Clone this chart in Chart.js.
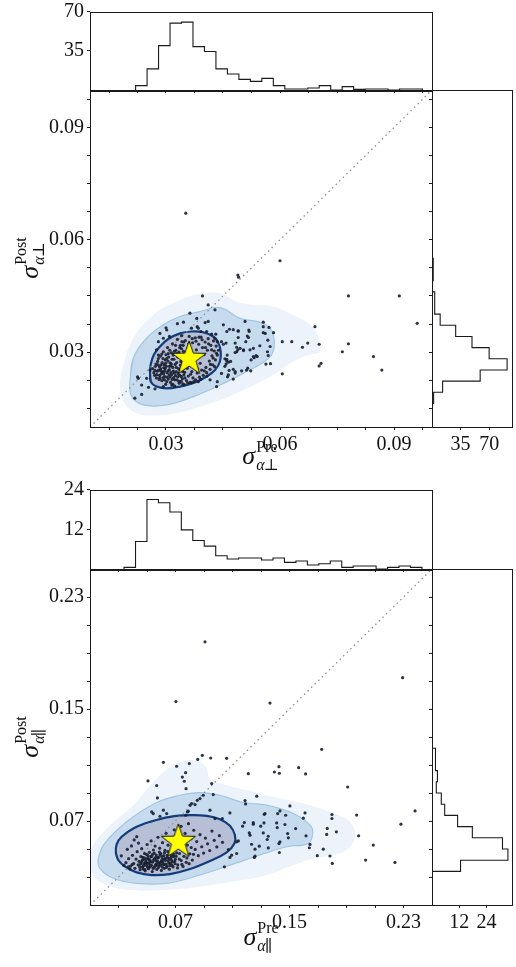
<!DOCTYPE html>
<html>
<head>
<meta charset="utf-8">
<script src="https://cdn.jsdelivr.net/npm/chart.js@4.4.1/dist/chart.umd.min.js"></script>
<style>
  html, body { margin: 0; padding: 0; background: #fff; }
  #wrap { position: relative; width: 516px; height: 967px; }
  #wrap canvas { position: absolute; left: 0; top: 0; }
</style>
</head>
<body>
<div id="wrap">
  <canvas id="perpTop" width="516" height="967"></canvas>
  <canvas id="perpMain" width="516" height="967"></canvas>
  <canvas id="perpSide" width="516" height="967"></canvas>
  <canvas id="paraTop" width="516" height="967"></canvas>
  <canvas id="paraMain" width="516" height="967"></canvas>
  <canvas id="paraSide" width="516" height="967"></canvas>
</div>
<script>
// ---- perpendicular (top panel) ----
const perpRange = [0.01, 0.10];
const perpTicks = [0.015, 0.0225, 0.03, 0.0375, 0.045, 0.0525, 0.06, 0.0675, 0.075, 0.0825, 0.09, 0.0975];
const perpMajor = [0.03, 0.06, 0.09];
const perpStar = [0.0361, 0.0282];

const perpPoints = [
  [0.0352,0.0671],[0.0600,0.0544],[0.0489,0.0506],[0.0491,0.0500],[0.0780,0.0450],[0.0914,0.0450],[0.0961,0.0377],
  [0.0692,0.0368],[0.0703,0.0321],[0.0780,0.0322],[0.0764,0.0301],[0.0846,0.0288],[0.0868,0.0252],[0.0708,0.0270],
  [0.0703,0.0263],[0.0606,0.0242],[0.0673,0.0324],[0.0659,0.0313],[0.0631,0.0328],[0.0606,0.0328],
  [0.0396,0.0450],[0.0411,0.0426],[0.0363,0.0404],[0.0429,0.0413],[0.0508,0.0382],[0.0556,0.0380],[0.0571,0.0366],
  [0.0561,0.0350],[0.0547,0.0317],[0.0569,0.0291],[0.0575,0.0269],[0.0530,0.0288],[0.0537,0.0291],[0.0512,0.0252],
  [0.0499,0.0250],[0.0482,0.0248],[0.0464,0.0239],[0.0433,0.0208],[0.0435,0.0221],[0.0460,0.0276],[0.0455,0.0282],
  [0.0464,0.0273],[0.0486,0.0301],[0.0495,0.0310],[0.0504,0.0306],[0.0482,0.0324],[0.0490,0.0357],[0.0519,0.0355],
  [0.0517,0.0339],[0.0510,0.0328],[0.0530,0.0310],[0.0451,0.0373],[0.0460,0.0355],[0.0446,0.0328],[0.0477,0.0360],
  [0.0431,0.0348],[0.0429,0.0337],[0.0346,0.0380],[0.0330,0.0376],[0.0381,0.0390],[0.0403,0.0379],[0.0411,0.0382],
  [0.0385,0.0364],[0.0284,0.0350],[0.0302,0.0359],[0.0309,0.0342],[0.0280,0.0328],[0.0293,0.0337],[0.0227,0.0230],
  [0.0236,0.0212],[0.0218,0.0177],[0.0254,0.0206],[0.0271,0.0202],
  [0.0300,0.0365],[0.0275,0.0306],[0.0280,0.0292],[0.0258,0.0252],[0.0249,0.0230],[0.0225,0.0234],[0.0236,0.0187],
  [0.0293,0.0208],[0.0315,0.0212],[0.0344,0.0215],[0.0367,0.0218],[0.0385,0.0221],[0.0416,0.0226],[0.0446,0.0243],
  [0.0455,0.0262],[0.0461,0.0292],[0.0435,0.0328],[0.0451,0.0321],[0.0467,0.0361],[0.0367,0.0364],[0.0382,0.0368],
  [0.0392,0.0355],[0.0407,0.0355],[0.0420,0.0348],
  [0.0490,0.0356],[0.0518,0.0359],[0.0514,0.0343],[0.0490,0.0339],[0.0556,0.0368],[0.0583,0.0352],[0.0556,0.0352],
  [0.0568,0.0332],[0.0574,0.0315],[0.0567,0.0301],[0.0458,0.0324],[0.0486,0.0313],[0.0489,0.0306],[0.0504,0.0304],
  [0.0521,0.0306],[0.0482,0.0299],[0.0540,0.0288],[0.0532,0.0285],[0.0524,0.0279],[0.0460,0.0281],[0.0470,0.0275],
  [0.0458,0.0268],[0.0563,0.0268],[0.0515,0.0257],[0.0523,0.0250],[0.0477,0.0254],[0.0482,0.0244],[0.0466,0.0251],
  [0.0462,0.0234],[0.0477,0.0228],
  [0.0268,0.0245],[0.0272,0.0262],[0.0275,0.0231],[0.0278,0.0275],[0.0281,0.0252],[0.0283,0.0238],[0.0285,0.0289],
  [0.0287,0.0266],[0.0289,0.0224],[0.0291,0.0247],[0.0293,0.0301],[0.0294,0.0258],[0.0296,0.0235],[0.0298,0.0279],
  [0.0299,0.0214],[0.0301,0.0262],[0.0303,0.0245],[0.0304,0.0312],[0.0306,0.0228],[0.0307,0.0287],[0.0309,0.0253],
  [0.0311,0.0271],[0.0312,0.0219],[0.0314,0.0298],[0.0315,0.0240],[0.0317,0.0322],[0.0318,0.0259],[0.0320,0.0232],
  [0.0321,0.0281],[0.0323,0.0209],[0.0324,0.0267],[0.0326,0.0305],[0.0327,0.0248],[0.0329,0.0226],[0.0330,0.0334],
  [0.0332,0.0291],[0.0333,0.0256],[0.0335,0.0217],[0.0336,0.0238],[0.0338,0.0318],[0.0339,0.0275],[0.0341,0.0344],
  [0.0343,0.0229],[0.0344,0.0263],[0.0346,0.0302],[0.0348,0.0213],[0.0349,0.0246],[0.0351,0.0331],[0.0353,0.0284],
  [0.0354,0.0224],[0.0356,0.0257],[0.0358,0.0311],[0.0359,0.0236],[0.0361,0.0342],[0.0363,0.0270],[0.0364,0.0219],
  [0.0366,0.0296],[0.0368,0.0248],[0.0370,0.0325],[0.0371,0.0231],[0.0373,0.0281],[0.0375,0.0262],[0.0377,0.0338],
  [0.0378,0.0226],[0.0380,0.0306],[0.0382,0.0244],[0.0384,0.0290],[0.0386,0.0321],[0.0388,0.0233],[0.0390,0.0270],
  [0.0392,0.0340],[0.0394,0.0252],[0.0396,0.0312],[0.0398,0.0238],[0.0400,0.0293],[0.0403,0.0327],[0.0405,0.0259],
  [0.0407,0.0245],[0.0409,0.0305],[0.0411,0.0336],[0.0414,0.0276],[0.0416,0.0254],[0.0418,0.0318],[0.0421,0.0290],
  [0.0423,0.0266],[0.0425,0.0330],[0.0427,0.0303],[0.0430,0.0279],[0.0432,0.0316],[0.0435,0.0292],[0.0438,0.0305],
  [0.0265,0.0256],[0.0270,0.0238],[0.0274,0.0268],[0.0277,0.0249],[0.0280,0.0283],[0.0282,0.0227],[0.0286,0.0255],
  [0.0288,0.0242],[0.0290,0.0272],[0.0292,0.0231],[0.0295,0.0266],[0.0297,0.0250],[0.0300,0.0293],[0.0302,0.0221],
  [0.0305,0.0276],[0.0308,0.0239],[0.0310,0.0305],[0.0313,0.0263],[0.0316,0.0227],[0.0319,0.0292],[0.0322,0.0244],
  [0.0325,0.0318],[0.0328,0.0272],[0.0331,0.0234],[0.0334,0.0300],[0.0337,0.0251],[0.0340,0.0222],[0.0342,0.0328],
  [0.0345,0.0280],[0.0347,0.0239],
  [0.0283,0.0261],[0.0287,0.0249],[0.0292,0.0283],[0.0296,0.0226],[0.0299,0.0270],[0.0303,0.0233],[0.0306,0.0296],
  [0.0309,0.0262],[0.0313,0.0245],[0.0316,0.0281],[0.0318,0.0214],[0.0322,0.0302],[0.0325,0.0237],[0.0327,0.0259],
  [0.0331,0.0287],[0.0334,0.0222],[0.0338,0.0265],[0.0341,0.0309],[0.0344,0.0248],[0.0347,0.0327],[0.0350,0.0231],
  [0.0354,0.0296],[0.0357,0.0218],[0.0360,0.0322],[0.0365,0.0241],[0.0369,0.0336],[0.0373,0.0221],[0.0379,0.0329],
  [0.0383,0.0255],[0.0387,0.0340],[0.0391,0.0227],[0.0395,0.0333],[0.0401,0.0250],[0.0404,0.0312],[0.0408,0.0236],
  [0.0412,0.0322],[0.0417,0.0267],[0.0420,0.0306],[0.0424,0.0284],[0.0428,0.0261],[0.0433,0.0297],[0.0271,0.0251],
  [0.0276,0.0240],[0.0279,0.0266],[0.0284,0.0232],[0.0289,0.0295],[0.0294,0.0243],[0.0298,0.0256],[0.0302,0.0283],
  [0.0306,0.0250],[0.0311,0.0234],[0.0314,0.0268],[0.0319,0.0249],[0.0323,0.0226],[0.0328,0.0296],[0.0332,0.0243],
  [0.0336,0.0312],[0.0340,0.0235],[0.0345,0.0318],[0.0349,0.0258]
];

// KDE contour outlines
const perpOuterX = [0.0179,0.0183,0.0214,0.0267,0.0328,0.0398,0.0442,0.0486,0.0530,0.0582,0.0635,0.0679,0.0703,0.0705,0.0679,0.0635,0.0582,0.0512,0.0442,0.0363,0.0293,0.0223,0.0188];
const perpOuterY = [0.0212,0.0248,0.0337,0.0399,0.0435,0.0457,0.0457,0.0435,0.0426,0.0422,0.0399,0.0373,0.0337,0.0301,0.0293,0.0275,0.0239,0.0203,0.0172,0.0146,0.0132,0.0137,0.0168];
const perpMidX = [0.0205,0.0214,0.0249,0.0293,0.0337,0.0389,0.0442,0.0495,0.0547,0.0574,0.0585,0.0578,0.0552,0.0512,0.0442,0.0372,0.0302,0.0240,0.0210];
const perpMidY = [0.0221,0.0284,0.0337,0.0373,0.0395,0.0408,0.0419,0.0390,0.0380,0.0364,0.0328,0.0293,0.0270,0.0248,0.0212,0.0181,0.0159,0.0159,0.0181];
const perpInnerX = [0.0258,0.0260,0.0275,0.0302,0.0337,0.0376,0.0407,0.0429,0.0442,0.0444,0.0438,0.0425,0.0398,0.0367,0.0337,0.0306,0.0284,0.0268,0.0260];
const perpInnerY = [0.0244,0.0221,0.0208,0.0203,0.0208,0.0219,0.0235,0.0252,0.0275,0.0301,0.0324,0.0341,0.0353,0.0355,0.0350,0.0335,0.0315,0.0293,0.0268];

// marginal histograms (density)
const perpPreBinStart = 0.022, perpPreBinWidth = 0.00302;
const perpPreDensity = [3.9, 18.8, 39.6, 59.6, 60.5, 38.7, 34.3, 18.8, 14.3, 9.5, 7.7, 10.4, 3.9, 0.9, 0.9, 1.8, 3.9, 0, 3.0, 0.6, 0.9, 0.9, 0, 0.9, 0.9];
const perpPostBinStart = 0.0163, perpPostBinWidth = 0.00298;
const perpPostDensity = [2, 13, 59, 92, 70, 49, 29, 10, 3.3, 3.3, 0, 1.5, 1.5, 0, 0, 0, 0, 1.2];
const perpHistTicks = [35, 70];
const perpTopMax = 70, perpSideMax = 98;

// ---- parallel (bottom panel) ----
const paraRange = [0.01, 0.25];
const paraTicks = [0.03, 0.05, 0.07, 0.09, 0.11, 0.13, 0.15, 0.17, 0.19, 0.21, 0.23];
const paraMajor = [0.07, 0.15, 0.23];
const paraStar = [0.072, 0.0551];

const paraPoints = [
  [0.0907,0.1980],[0.2294,0.1724],[0.0703,0.1553],[0.1363,0.1542],[0.1726,0.1212],[0.0615,0.1119],[0.0708,0.1091],
  [0.0797,0.1110],[0.0856,0.1140],[0.0888,0.1169],[0.0947,0.1150],[0.1059,0.1148],[0.1211,0.1038],[0.1394,0.1050],
  [0.1426,0.1088],[0.1429,0.1041],[0.1564,0.1081],[0.1613,0.1036],[0.1908,0.0943],[0.2381,0.0772],[0.2282,0.0677],
  [0.2240,0.0404],[0.2034,0.0421],[0.2088,0.0528],[0.1985,0.0594],[0.1971,0.0742],[0.1829,0.0623],[0.1798,0.0746],
  [0.1798,0.0718],[0.1765,0.0647],[0.1761,0.0604],[0.1784,0.0450],[0.1800,0.0397],[0.1737,0.0499],[0.1695,0.0452],
  [0.1644,0.0533],[0.1639,0.0509],[0.1616,0.0594],[0.1609,0.0758],[0.1597,0.0720],[0.1503,0.0808],[0.1433,0.0772],
  [0.1270,0.0877],[0.1188,0.0846],[0.1192,0.0822],[0.1328,0.0753],[0.0507,0.0986],[0.0568,0.0953],[0.0573,0.0865],
  [0.0533,0.0765],[0.0748,0.1014],[0.0771,0.1045],[0.0762,0.0984],[0.0774,0.0931],[0.0954,0.0967],[0.0965,0.0889],
  [0.0895,0.0884],[0.0872,0.0860],[0.0853,0.0848],[0.0813,0.0825],[0.0802,0.0813],[0.0783,0.0765],[0.0837,0.0817],
  [0.0615,0.0777],[0.0638,0.0753],[0.0544,0.0753],[0.0591,0.0734],[0.0790,0.0770],[0.0771,0.0741],[0.0942,0.0777],
  [0.1082,0.0758],[0.1029,0.0717],[0.0977,0.0717],[0.1323,0.0748],[0.1417,0.0753],[0.1473,0.0741],[0.1171,0.0663],
  [0.1183,0.0689],[0.1246,0.0689],[0.1246,0.0677],[0.1298,0.0663],[0.1321,0.0686],[0.1410,0.0686],[0.1414,0.0653],
  [0.1468,0.0675],[0.1543,0.0646],[0.1487,0.0610],[0.1218,0.0615],[0.1223,0.0599],[0.1316,0.0615],[0.1351,0.0591],
  [0.1344,0.0568],[0.1492,0.0580],[0.1433,0.0551],[0.1426,0.0539],[0.1234,0.0534],[0.1288,0.0520],[0.1258,0.0499],
  [0.1351,0.0508],[0.1429,0.0475],[0.1129,0.0551],[0.1141,0.0558],[0.1129,0.0468],[0.1094,0.0456],[0.1082,0.0440],
  [0.1071,0.0496],[0.1258,0.0449],[0.1253,0.0440],[0.1043,0.0373],[0.0369,0.0373],[0.0397,0.0390],[0.0381,0.0357],
  [0.0352,0.0402],[0.0371,0.0431],[0.0385,0.0378],[0.0398,0.0455],[0.0407,0.0396],[0.0415,0.0362],[0.0423,0.0428],
  [0.0431,0.0481],[0.0438,0.0387],[0.0444,0.0412],[0.0452,0.0352],[0.0457,0.0446],[0.0463,0.0502],[0.0468,0.0371],
  [0.0472,0.0424],[0.0478,0.0395],[0.0483,0.0468],[0.0487,0.0344],[0.0492,0.0411],[0.0497,0.0383],[0.0501,0.0532],
  [0.0505,0.0437],[0.0509,0.0359],[0.0513,0.0401],[0.0517,0.0476],[0.0521,0.0422],[0.0525,0.0376],[0.0529,0.0558],
  [0.0533,0.0448],[0.0537,0.0339],[0.0541,0.0407],[0.0545,0.0493],[0.0549,0.0366],[0.0553,0.0431],[0.0557,0.0521],
  [0.0561,0.0389],[0.0565,0.0457],[0.0569,0.0354],[0.0573,0.0415],[0.0577,0.0584],[0.0581,0.0440],[0.0585,0.0378],
  [0.0589,0.0506],[0.0593,0.0402],[0.0597,0.0468],[0.0601,0.0347],[0.0605,0.0425],[0.0609,0.0545],[0.0613,0.0391],
  [0.0617,0.0452],[0.0621,0.0362],[0.0626,0.0491],[0.0630,0.0418],[0.0634,0.0612],[0.0639,0.0379],[0.0643,0.0438],
  [0.0648,0.0527],[0.0652,0.0400],[0.0657,0.0356],[0.0661,0.0464],[0.0666,0.0568],[0.0671,0.0420],[0.0676,0.0383],
  [0.0681,0.0502],[0.0686,0.0445],[0.0691,0.0637],[0.0697,0.0395],[0.0702,0.0542],[0.0708,0.0472],[0.0714,0.0365],
  [0.0720,0.0596],[0.0726,0.0428],[0.0732,0.0513],[0.0739,0.0662],[0.0745,0.0390],[0.0752,0.0556],[0.0759,0.0448],
  [0.0767,0.0611],[0.0775,0.0405],[0.0783,0.0528],[0.0791,0.0681],[0.0800,0.0466],[0.0809,0.0574],[0.0818,0.0421],
  [0.0828,0.0634],[0.0838,0.0497],[0.0849,0.0553],[0.0860,0.0452],[0.0872,0.0602],[0.0884,0.0516],[0.0897,0.0471],
  [0.0910,0.0578],[0.0925,0.0537],[0.0940,0.0489],[0.0956,0.0628],[0.0972,0.0562],[0.0990,0.0515],[0.1008,0.0595],
  [0.1030,0.0548],
  [0.0455,0.0392],[0.0466,0.0418],[0.0474,0.0358],[0.0481,0.0437],[0.0489,0.0401],[0.0496,0.0462],[0.0503,0.0372],
  [0.0511,0.0426],[0.0519,0.0389],[0.0527,0.0445],[0.0535,0.0407],[0.0543,0.0361],[0.0551,0.0471],[0.0559,0.0419],
  [0.0567,0.0384],[0.0575,0.0436],[0.0583,0.0397],[0.0591,0.0459],[0.0599,0.0411],[0.0607,0.0371],[0.0615,0.0428],
  [0.0623,0.0474],[0.0632,0.0393],[0.0641,0.0455],[0.0650,0.0417],[0.0659,0.0381],[0.0668,0.0439],[0.0678,0.0407],
  [0.0688,0.0461],[0.0699,0.0426],
  [0.0320,0.0451],[0.0338,0.0383],[0.0362,0.0498],[0.0391,0.0522],[0.0410,0.0565],[0.0428,0.0588],[0.0440,0.0542],
  [0.0448,0.0372],[0.0459,0.0405],[0.0470,0.0441],[0.0476,0.0381],[0.0485,0.0352],[0.0491,0.0426],[0.0499,0.0398],
  [0.0507,0.0453],[0.0515,0.0366],[0.0523,0.0410],[0.0531,0.0384],[0.0539,0.0462],[0.0547,0.0425],[0.0555,0.0377],
  [0.0563,0.0443],[0.0571,0.0402],[0.0579,0.0366],[0.0587,0.0478],[0.0595,0.0385],[0.0603,0.0446],[0.0611,0.0408],
  [0.0619,0.0389],[0.0628,0.0433],[0.0637,0.0368],[0.0646,0.0481],[0.0655,0.0432],[0.0664,0.0397],[0.0673,0.0452],
  [0.0683,0.0372],[0.0694,0.0412],[0.0705,0.0448],[0.0716,0.0387],[0.0728,0.0468],[0.0740,0.0418],[0.0753,0.0375],
  [0.0766,0.0489],[0.0780,0.0436],[0.0795,0.0395],[0.0810,0.0510],[0.0826,0.0462]
];

const paraOuterX = [0.0100,0.0123,0.0240,0.0404,0.0568,0.0708,0.0837,0.0914,0.0942,0.1059,0.1246,0.1433,0.1644,0.1808,0.1924,0.1960,0.1913,0.1808,0.1667,0.1527,0.1340,0.1106,0.0872,0.0615,0.0381,0.0217,0.0123];
const paraOuterY = [0.0433,0.0528,0.0670,0.0813,0.1003,0.1110,0.1133,0.1086,0.1003,0.0955,0.0908,0.0860,0.0813,0.0753,0.0694,0.0599,0.0504,0.0457,0.0433,0.0385,0.0314,0.0267,0.0231,0.0207,0.0207,0.0243,0.0314];
const paraMidX = [0.0158,0.0194,0.0357,0.0568,0.0732,0.0872,0.1012,0.1176,0.1340,0.1527,0.1644,0.1663,0.1632,0.1480,0.1293,0.1082,0.0872,0.0638,0.0427,0.0264,0.0170];
const paraMidY = [0.0433,0.0528,0.0694,0.0832,0.0884,0.0903,0.0884,0.0832,0.0813,0.0753,0.0670,0.0611,0.0540,0.0516,0.0457,0.0385,0.0314,0.0255,0.0255,0.0291,0.0362];
const paraInnerX = [0.0282,0.0299,0.0346,0.0427,0.0533,0.0661,0.0802,0.0942,0.1059,0.1113,0.1117,0.1082,0.1012,0.0919,0.0802,0.0661,0.0521,0.0404,0.0322,0.0287];
const paraInnerY = [0.0469,0.0421,0.0374,0.0333,0.0314,0.0321,0.0357,0.0414,0.0476,0.0540,0.0599,0.0666,0.0713,0.0737,0.0742,0.0730,0.0694,0.0647,0.0587,0.0533];

const paraPreBinStart = 0.0339, paraPreBinWidth = 0.00804;
const paraPreDensity = [0.5, 8.3, 21, 20, 17.2, 11.8, 8.6, 6.9, 4.0, 3.0, 3.3, 3.3, 2.7, 3.3, 2.0, 2.4, 1.2, 1.6, 2.4, 0.5, 0.9, 0.9, 0, 0.5, 0.9, 0.5];
const paraPostBinStart = 0.034, paraPostBinWidth = 0.008;
const paraPostDensity = [12.6, 33.5, 31.1, 17.8, 11.3, 5.6, 4.1, 1.9, 2.4, 1.6, 1.5, 0, 0, 0, 0.4, 0.4, 0, 0.4, 0, 0, 0.4];
const paraHistTicks = [12, 24];
const paraTopMax = 24, paraSideMax = 35.3;

// ---- helpers ----
const W = 516, H = 967;
const FONT = '"Liberation Serif", "DejaVu Serif", serif';
const INK = '#1a1a1a';

const pairs = (list) => list.map(([x, y]) => ({ x, y }));
const loop = (xs, ys) => {
  const p = xs.map((x, i) => ({ x, y: ys[i] }));
  p.push(p[0], p[1]);
  return p;
};

function histSteps(start, width, counts, sideways) {
  const pts = [];
  const add = (edge, c) => pts.push(sideways ? { x: c, y: edge } : { x: edge, y: c });
  add(start, 0);
  counts.forEach((c, i) => {
    add(start + i * width, c);
    add(start + (i + 1) * width, c);
  });
  add(start + counts.length * width, 0);
  return pts;
}

function starImage(r) {
  const c = document.createElement('canvas');
  const s = Math.ceil(r * 2 + 4);
  c.width = c.height = s;
  const g = c.getContext('2d');
  g.beginPath();
  for (let i = 0; i < 10; i++) {
    const rad = i % 2 === 0 ? r : r * 0.4;
    const a = -Math.PI / 2 + (i * Math.PI) / 5;
    g.lineTo(s / 2 + rad * Math.cos(a), s / 2 + rad * Math.sin(a));
  }
  g.closePath();
  g.fillStyle = '#ffff00';
  g.fill();
  g.lineWidth = 1;
  g.strokeStyle = '#111';
  g.stroke();
  return c;
}

const framePlugin = {
  id: 'frame',
  afterDraw(chart) {
    const { ctx, chartArea: a } = chart;
    ctx.save();
    ctx.strokeStyle = INK;
    ctx.lineWidth = 1;
    ctx.strokeRect(Math.round(a.left) + 0.5, Math.round(a.top) + 0.5, Math.round(a.right - a.left), Math.round(a.bottom - a.top));
    ctx.restore();
  },
};

function mathTitle(cfg) {
  return {
    id: 'mathTitle',
    afterDraw(chart) {
      const ctx = chart.ctx;
      const big = `italic 26px ${FONT}`;
      const small = `16px ${FONT}`;
      const smallIt = `italic 16px ${FONT}`;
      ctx.save();
      ctx.translate(cfg.x, cfg.y);
      if (cfg.rotate) ctx.rotate(-Math.PI / 2);
      ctx.fillStyle = '#111';
      ctx.textBaseline = 'alphabetic';
      ctx.font = big;
      const ws = ctx.measureText('σ').width;
      ctx.font = small;
      const wsup = ctx.measureText(cfg.sup).width;
      const wsym = ctx.measureText(cfg.sym).width;
      ctx.font = smallIt;
      const wa = ctx.measureText('α').width;
      const total = ws + 1 + Math.max(wsup, wa + wsym);
      const x0 = -total / 2;
      ctx.font = big;
      ctx.fillText('σ', x0, 0);
      ctx.font = small;
      ctx.fillText(cfg.sup, x0 + ws + 1, -12);
      ctx.font = smallIt;
      ctx.fillText('α', x0 + ws + 1, 6);
      ctx.font = small;
      ctx.fillText(cfg.sym, x0 + ws + wa, 6);
      ctx.restore();
    },
  };
}

function axis(min, max, tickValues, size, labelFn) {
  return {
    type: 'linear',
    min,
    max,
    afterBuildTicks: (a) => { a.ticks = tickValues.map((value) => ({ value })); },
    afterFit: (a) => {
      if (a.isHorizontal()) a.height = size; else a.width = size;
      a.paddingLeft = a.paddingRight = a.paddingTop = a.paddingBottom = 0;
    },
    grid: { drawOnChartArea: false, drawTicks: true, tickLength: 3, color: INK, lineWidth: 1 },
    border: { display: false },
    ticks: {
      autoSkip: false,
      maxRotation: 0,
      padding: 3,
      color: '#111',
      font: { family: FONT, size: 20 },
      callback: labelFn || (() => ''),
    },
  };
}

const majorLabel = (majors) => (v) => {
  const m = majors.find((t) => Math.abs(t - v) < 1e-9);
  return m === undefined ? '' : m.toFixed(2);
};

function makeChart(id, area, xScale, yScale, datasets, extra = []) {
  return new Chart(document.getElementById(id), {
    type: 'scatter',
    data: { datasets },
    options: {
      responsive: false,
      animation: false,
      devicePixelRatio: 1,
      events: [],
      layout: { padding: { left: 0, top: area.t, right: W - area.r, bottom: 0 } },
      plugins: { legend: { display: false }, tooltip: { enabled: false } },
      scales: { x: { ...xScale, position: 'bottom' }, y: { ...yScale, position: 'left' } },
    },
    plugins: [framePlugin, ...extra],
  });
}

const stepLine = (data) => ({ data, showLine: true, pointRadius: 0, borderColor: INK, borderWidth: 1.1, fill: false, tension: 0 });

function contour(data, fillColor, edge, width, order) {
  return {
    data, showLine: true, pointRadius: 0, fill: 'shape', tension: 0.4,
    backgroundColor: fillColor, borderColor: edge, borderWidth: width, order,
  };
}

function jointPanel(p) {
  const { ids, main, top, side, range, ticks, majors, histTicks } = p;
  const lbl = majorLabel(majors);
  const histLbl = (v) => String(v);

  makeChart(ids[0], top,
    axis(range[0], range[1], ticks, H - top.b),
    axis(0, p.topMax, histTicks, top.l, histLbl),
    [stepLine(histSteps(p.preStart, p.preWidth, p.preDensity, false))]);

  makeChart(ids[1], main,
    axis(range[0], range[1], ticks, H - main.b, lbl),
    axis(range[0], range[1], ticks, main.l, lbl),
    [
      contour(loop(p.outerX, p.outerY), '#edf3fa', 'rgba(0,0,0,0)', 1, 6),
      contour(loop(p.midX, p.midY), '#c6dcee', '#a0c6e4', 1.2, 5),
      contour(loop(p.innerX, p.innerY), '#b6bfd5', '#133d7a', 2.2, 4),
      {
        data: [{ x: range[0], y: range[0] }, { x: range[1], y: range[1] }],
        showLine: true, pointRadius: 0, borderColor: '#8f8f8f', borderWidth: 1.3,
        borderDash: [1.5, 3.5], order: 3,
      },
      { data: pairs(p.points), pointRadius: 1.6, backgroundColor: 'rgba(22,30,48,0.9)', borderWidth: 0, order: 2 },
      { data: [{ x: p.star[0], y: p.star[1] }], pointStyle: starImage(18), pointRadius: 18, order: 1 },
    ],
    [mathTitle(p.xTitle), mathTitle(p.yTitle)]);

  makeChart(ids[2], side,
    axis(0, p.sideMax, histTicks, H - side.b, histLbl),
    axis(range[0], range[1], ticks, side.l),
    [stepLine(histSteps(p.postStart, p.postWidth, p.postDensity, true))]);
}

jointPanel({
  ids: ['perpTop', 'perpMain', 'perpSide'],
  top: { l: 90, t: 11.5, r: 432, b: 90 },
  main: { l: 90, t: 90, r: 432, b: 427 },
  side: { l: 432, t: 90, r: 512, b: 427 },
  range: perpRange, ticks: perpTicks, majors: perpMajor, histTicks: perpHistTicks,
  topMax: perpTopMax, sideMax: perpSideMax,
  preStart: perpPreBinStart, preWidth: perpPreBinWidth, preDensity: perpPreDensity,
  postStart: perpPostBinStart, postWidth: perpPostBinWidth, postDensity: perpPostDensity,
  outerX: perpOuterX, outerY: perpOuterY, midX: perpMidX, midY: perpMidY, innerX: perpInnerX, innerY: perpInnerY,
  points: perpPoints, star: perpStar,
  xTitle: { x: 261, y: 464, sup: 'Pre', sym: '⊥' },
  yTitle: { x: 38, y: 258, rotate: true, sup: 'Post', sym: '⊥' },
});

jointPanel({
  ids: ['paraTop', 'paraMain', 'paraSide'],
  top: { l: 90, t: 489.5, r: 432, b: 569 },
  main: { l: 90, t: 569, r: 432, b: 905 },
  side: { l: 432, t: 569, r: 512, b: 905 },
  range: paraRange, ticks: paraTicks, majors: paraMajor, histTicks: paraHistTicks,
  topMax: paraTopMax, sideMax: paraSideMax,
  preStart: paraPreBinStart, preWidth: paraPreBinWidth, preDensity: paraPreDensity,
  postStart: paraPostBinStart, postWidth: paraPostBinWidth, postDensity: paraPostDensity,
  outerX: paraOuterX, outerY: paraOuterY, midX: paraMidX, midY: paraMidY, innerX: paraInnerX, innerY: paraInnerY,
  points: paraPoints, star: paraStar,
  xTitle: { x: 261, y: 945, sup: 'Pre', sym: '∥' },
  yTitle: { x: 38, y: 737, rotate: true, sup: 'Post', sym: '∥' },
});
</script>
</body>
</html>
